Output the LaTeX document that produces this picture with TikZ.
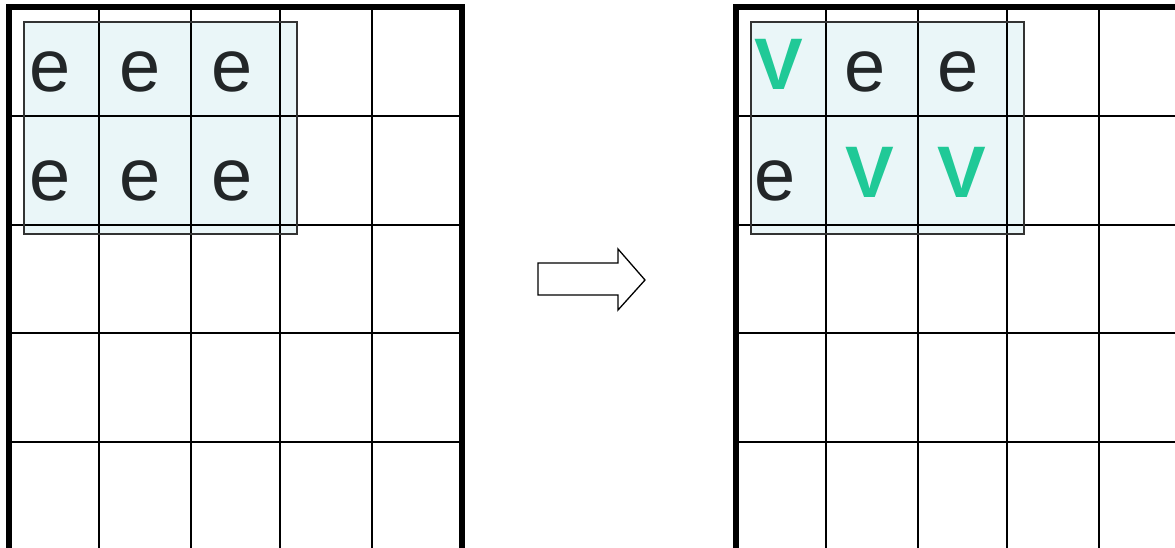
\documentclass[tikz,border=0pt]{standalone}
\usepackage{fontspec}
\setmainfont{Liberation Sans}
\definecolor{hlfill}{RGB}{234,246,248}
\definecolor{vgreen}{RGB}{32,201,151}
\definecolor{edark}{RGB}{34,38,40}
\begin{document}
\begin{tikzpicture}[x=1pt,y=-1pt,
  hl/.style={fill=hlfill},
  hlborder/.style={draw=black!80,line width=1.3pt},
  gridline/.style={draw=black,line width=2.6pt},
  outer/.style={draw=black,line width=5.5pt},
  eletter/.style={anchor=base,inner sep=0pt,text=edark,font=\fontsize{74}{74}\selectfont},
  vletter/.style={anchor=base,inner sep=0pt,text=vgreen,font=\fontsize{73}{73}\selectfont\bfseries},
  blockarrow/.style={draw=black,line width=1.3pt,fill=white,line join=miter}]
\useasboundingbox (0,0) rectangle (1175,548);
\clip (0,0) rectangle (1175,548);
\fill[white] (0,0) rectangle (1175,548);
\foreach \ox in {0,727} {
  \fill[hl] (24+\ox,22) rectangle (297+\ox,234);
  \foreach \x in {99,191,280,372} \draw[gridline] (\x+\ox,7) -- (\x+\ox,550);
  \foreach \y in {116,225,333,442} \draw[gridline] (9+\ox,\y) -- (462+\ox,\y);
  \draw[outer] (9+\ox,550) -- (9+\ox,7) -- (462+\ox,7) -- (462+\ox,550);
  \draw[hlborder] (24+\ox,22) rectangle (297+\ox,234);
}
% left letters
\node[eletter] (l11) at (50,92) {e};
\node[eletter] (l12) at (140,92) {e};
\node[eletter] (l13) at (232,92) {e};
\node[eletter] (l21) at (50,201) {e};
\node[eletter] (l22) at (140,201) {e};
\node[eletter] (l23) at (232,201) {e};
% right letters
\node[vletter] (r11) at (779,90) {V};
\node[eletter] (r12) at (865,92) {e};
\node[eletter] (r13) at (958,92) {e};
\node[eletter] (r21) at (775,201) {e};
\node[vletter] (r22) at (870,198) {V};
\node[vletter] (r23) at (962,198) {V};
% block arrow
\draw[blockarrow] (538,263) -- (618,263) -- (618,249) -- (645,280) -- (618,310) -- (618,295) -- (538,295) -- cycle;
\end{tikzpicture}
\end{document}
